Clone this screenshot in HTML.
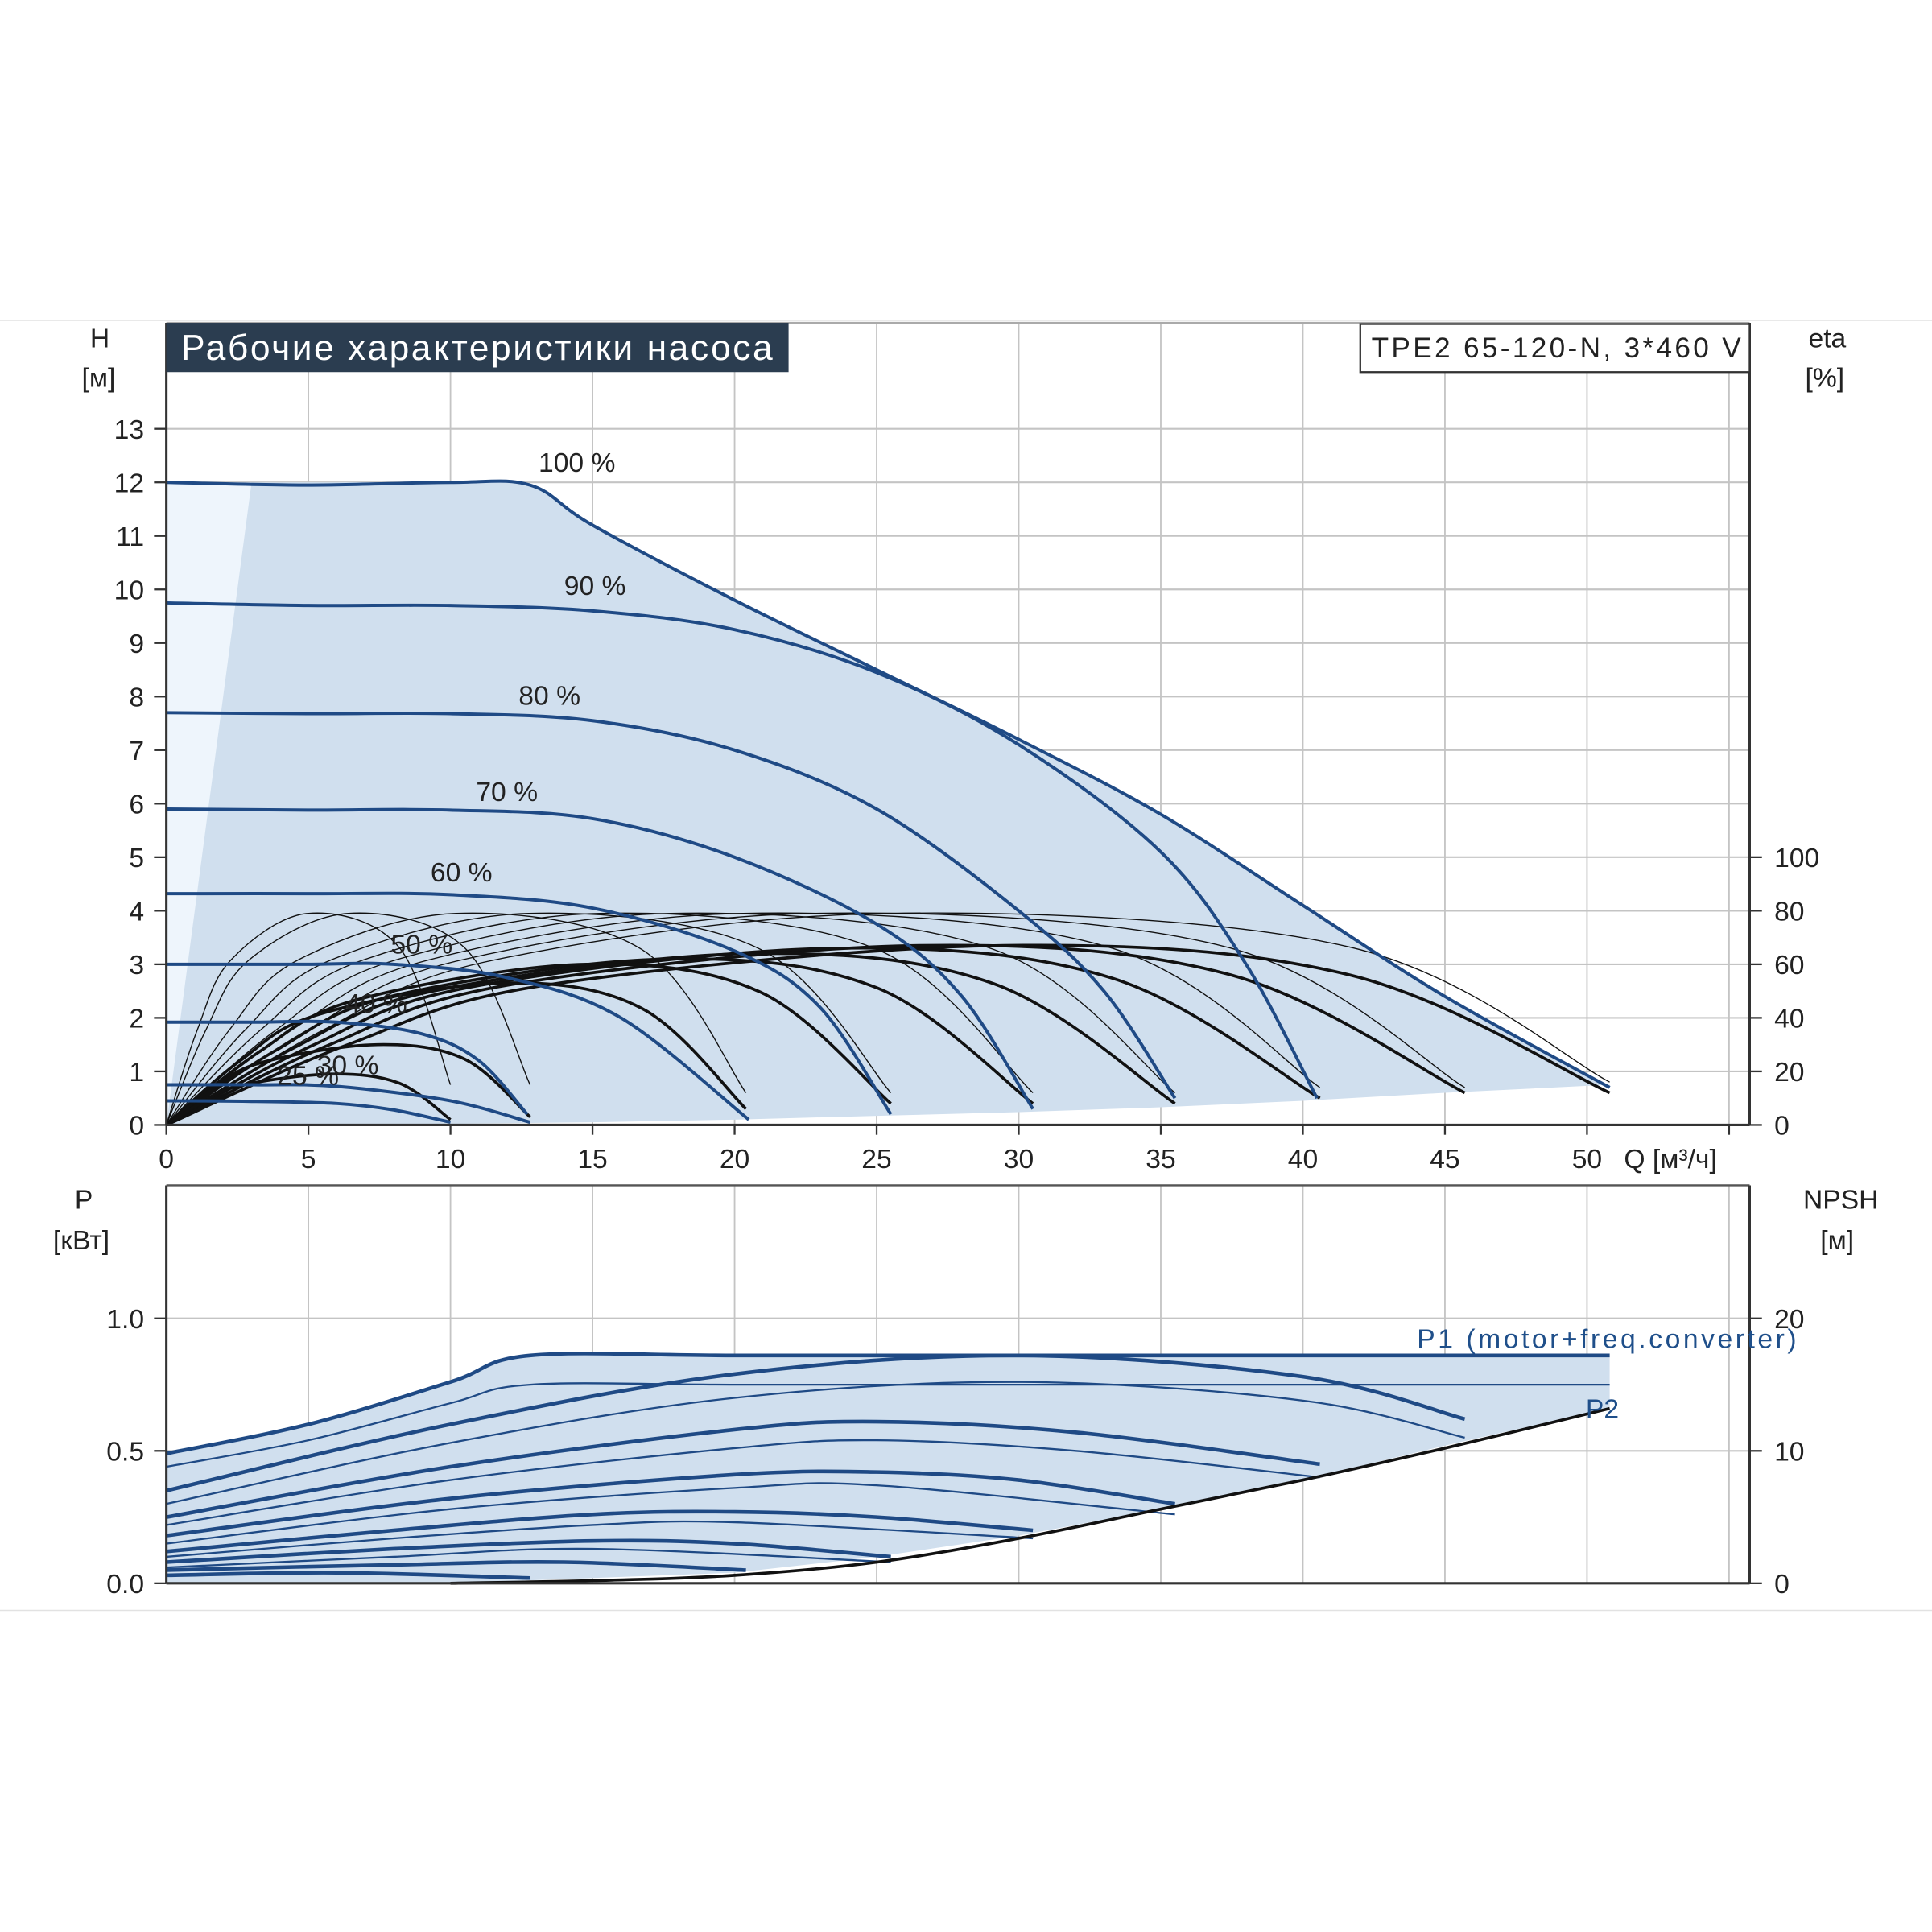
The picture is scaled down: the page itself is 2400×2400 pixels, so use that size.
<!DOCTYPE html>
<html><head><meta charset="utf-8">
<style>
html,body{margin:0;padding:0;background:#fff}
svg{display:block}
text{font-family:"Liberation Sans","DejaVu Sans",sans-serif;fill:#222}
</style></head>
<body>
<svg id="chart" width="2400" height="2400" viewBox="0 0 1568 1568" xmlns="http://www.w3.org/2000/svg">
<g id="static">
  <line x1="0" y1="260" x2="1568" y2="260" stroke="#e2e2e2" stroke-width="1"/>
  <line x1="0" y1="1307" x2="1568" y2="1307" stroke="#e2e2e2" stroke-width="1"/>
</g>
<g id="grid"></g>
<g id="areas"></g>
<g id="curves"></g>
<g id="axes"></g>
<g id="labels">
  <rect x="135" y="262" width="505" height="40" fill="#2b3d50"/>
  <text x="147" y="292" font-size="29" textLength="480" style="fill:#fff">Рабочие характеристики насоса</text>
  <rect x="1104" y="263" width="316" height="39" fill="#fff" stroke="#333" stroke-width="1.5"/>
  <text x="1113" y="290" font-size="23" textLength="300">TPE2 65-120-N, 3*460 V</text>
  <text x="81" y="282" font-size="22" text-anchor="middle">H</text>
  <text x="80" y="314" font-size="22" text-anchor="middle">[м]</text>
  <text x="1483" y="282" font-size="22" text-anchor="middle">eta</text>
  <text x="1481" y="314" font-size="22" text-anchor="middle">[%]</text>
  <text x="1318" y="948" font-size="22">Q [м³/ч]</text>
  <text x="68" y="981" font-size="22" text-anchor="middle">P</text>
  <text x="66" y="1014" font-size="22" text-anchor="middle">[кВт]</text>
  <text x="1494" y="981" font-size="22" text-anchor="middle">NPSH</text>
  <text x="1491" y="1014" font-size="22" text-anchor="middle">[м]</text>
  <text x="1150" y="1094" font-size="22" textLength="308" style="fill:#1f4f8a">P1 (motor+freq.converter)</text>
  <text x="1287" y="1151" font-size="22" style="fill:#1f4f8a">P2</text>
</g>
</svg>
<script>
const qTicks=[0,5,10,15,20,25,30,35,40,45,50];
const hTicks=[0,1,2,3,4,5,6,7,8,9,10,11,12,13];
const etaTicks=[0,20,40,60,80,100];
const pTicks=[0.0,0.5,1.0];
const npshTicks=[0,10,20];
const speedLabels=["100 %","90 %","80 %","70 %","60 %","50 %","40 %","30 %","25 %"];
const speedLabelQ=[13.1,14,12.4,10.9,9.3,7.9,6.3,5.3,3.9];
const speedLabelH=[12.2,9.9,7.85,6.05,4.55,3.2,2.1,0.95,0.75];
const hCurve100=[[0,12],[5,11.95],[10,12],[12.8,11.95],[15,11.2],[20,9.8],[25,8.5],[30,7.2],[35,5.8],[40,4.1],[45,2.4],[50.8,0.7]];
const hCurve90=[[0,9.75],[5,9.7],[10,9.7],[15,9.6],[20,9.25],[25,8.45],[30,7.1],[35,5.1],[38,3.0],[40.5,0.5]];
const hCurve80=[[0,7.7],[5,7.68],[10,7.68],[15,7.55],[20,7.0],[25,5.9],[30,4.0],[33,2.5],[35.5,0.5]];
const hCurve70=[[0,5.9],[5,5.88],[10,5.88],[15,5.72],[20,5.0],[25,3.75],[28,2.4],[30.5,0.3]];
const hCurve60=[[0,4.32],[5,4.32],[10,4.3],[15,4.05],[20,3.25],[23,2.2],[25.5,0.2]];
const hCurve50=[[0,3.0],[5,3.0],[8,3.0],[12,2.75],[16,2.0],[20.5,0.1]];
const hCurve40=[[0,1.92],[3,1.92],[6,1.92],[9,1.7],[11,1.2],[12.7,0.2]];
const hCurve30=[[0,0.75],[3,0.75],[6,0.72],[10,0.45],[12.8,0.05]];
const hCurve25=[[0,0.45],[3,0.44],[6,0.4],[8,0.28],[10,0.05]];
const hCurves=[hCurve100,hCurve90,hCurve80,hCurve70,hCurve60,hCurve50,hCurve40,hCurve30,hCurve25];
const areaBottom=[[50.8,0.75],[45,0.6],[40,0.45],[35,0.33],[30,0.24],[25,0.17],[20,0.1],[15,0.05],[10,0.02],[0,0]];
const etaEnds=[50.8,45.7,40.6,35.5,30.5,25.5,20.4,12.8,10];
const etaThickPeak=[67,67,66,64,62,60,53,30,19];
const etaThickEnd=[12,12,10,8,8,8,6,3,2];
const etaThinPeak=[79,79,79,79,79,79,79,79,79];
const etaThinEnd=[16,14,14,12,12,12,12,15,15];
const p1Curve100=[[0,0.49],[5,0.6],[10,0.76],[12.8,0.86],[20,0.86],[30,0.86],[40,0.86],[50.8,0.86]];
const p2Curve100=[[0,0.44],[5,0.54],[10,0.68],[12.8,0.75],[20,0.75],[30,0.75],[40,0.75],[50.8,0.75]];
const p1Curve90=[[0,0.35],[10,0.6],[20,0.79],[30,0.86],[40,0.78],[45.7,0.62]];
const p1Curve80=[[0,0.25],[10,0.44],[20,0.58],[25,0.61],[32,0.57],[40.6,0.45]];
const p1Curve70=[[0,0.18],[10,0.32],[20,0.41],[25,0.42],[30,0.39],[35.5,0.3]];
const p1Curve60=[[0,0.12],[8,0.2],[15,0.26],[20,0.27],[25,0.25],[30.5,0.2]];
const p1Curve50=[[0,0.08],[8,0.13],[15,0.16],[20,0.15],[25.5,0.1]];
const p1Curve40=[[0,0.05],[8,0.07],[14,0.08],[20.4,0.05]];
const p1Curve30=[[0,0.03],[6,0.04],[12.8,0.02]];
const p1Curves=[p1Curve90,p1Curve80,p1Curve70,p1Curve60,p1Curve50,p1Curve40,p1Curve30];
const p2Curve90=[[0,0.3],[10,0.53],[20,0.7],[30,0.76],[40,0.69],[45.7,0.55]];
const p2Curve80=[[0,0.22],[10,0.39],[20,0.51],[25,0.54],[32,0.5],[40.6,0.4]];
const p2Curve70=[[0,0.15],[10,0.28],[20,0.36],[25,0.37],[35.5,0.26]];
const p2Curve60=[[0,0.1],[8,0.17],[15,0.22],[20,0.23],[30.5,0.17]];
const p2Curve50=[[0,0.06],[8,0.1],[15,0.13],[25.5,0.08]];
const p2Curves=[p2Curve90,p2Curve80,p2Curve70,p2Curve60,p2Curve50];
const npshCurve=[[10,0],[15,0.2],[20,0.6],[25,1.6],[30,3.4],[35,5.6],[40,7.8],[45,10.2],[50.8,13.2]];

const NS="http://www.w3.org/2000/svg";
function X(q){return 135+q*23.06;}
function Y(h){return 913-h*43.46;}
function YE(e){return 913-e*2.173;}
function YP(p){return 1285-p*215;}
function YN(n){return 1285-n*10.75;}
function mk(tag,parent){const e=document.createElementNS(NS,tag);parent.appendChild(e);return e;}
function pathD(pts){
  let d="M"+pts[0][0].toFixed(1)+","+pts[0][1].toFixed(1);
  for(let i=0;i<pts.length-1;i++){
    const p0=pts[Math.max(0,i-1)],p1=pts[i],p2=pts[i+1],p3=pts[Math.min(pts.length-1,i+2)];
    const c1=[p1[0]+(p2[0]-p0[0])/6,p1[1]+(p2[1]-p0[1])/6];
    const c2=[p2[0]-(p3[0]-p1[0])/6,p2[1]-(p3[1]-p1[1])/6];
    d+=" C"+c1[0].toFixed(1)+","+c1[1].toFixed(1)+" "+c2[0].toFixed(1)+","+c2[1].toFixed(1)+" "+p2[0].toFixed(1)+","+p2[1].toFixed(1);
  }
  return d;
}
const gridG=document.getElementById('grid'),areasG=document.getElementById('areas'),curvesG=document.getElementById('curves'),axesG=document.getElementById('axes'),labelsG=document.getElementById('labels');
function line(parent,x1,y1,x2,y2,stroke,w){const l=mk('line',parent);l.setAttribute('x1',x1);l.setAttribute('y1',y1);l.setAttribute('x2',x2);l.setAttribute('y2',y2);l.setAttribute('stroke',stroke);l.setAttribute('stroke-width',w);return l;}
function txt(parent,x,y,s,anchor,size){const t=mk('text',parent);t.setAttribute('x',x);t.setAttribute('y',y);t.setAttribute('font-size',size||22);t.setAttribute('text-anchor',anchor||'start');t.textContent=s;return t;}

const gq=qTicks.concat([55]);
gq.forEach(q=>{
  const l=line(gridG,X(q),262,X(q),913,'#c4c4c4',1.2);
  
  
  const l2=line(gridG,X(q),962,X(q),1285,'#c4c4c4',1.2);
  
  
});
hTicks.forEach(h=>{
  const l=line(gridG,135,Y(h),1420,Y(h),'#c4c4c4',1.4);
  
  
});
pTicks.forEach(p=>{
  const l=line(gridG,135,YP(p),1420,YP(p),'#c4c4c4',1.4);
  
  
});
line(gridG,135,262,1420,262,'#aaa',1.5);
line(gridG,135,962,1420,962,'#555',1.5);

const topPts=hCurve100.map(p=>[X(p[0]),Y(p[1])]);
const botPts=areaBottom.map(p=>[X(p[0]),Y(p[1])]);
const light=mk('path',areasG);


light.setAttribute('d',"M"+X(0)+","+Y(12)+" L"+X(3)+","+Y(12)+" L"+X(0.3)+","+Y(0)+" L"+X(0)+","+Y(0)+" Z");
light.setAttribute('fill','#eef5fc');
const area=mk('path',areasG);


area.setAttribute('d',pathD([[X(3),Y(12)]].concat(topPts.slice(2)))+" L"+botPts.map(p=>p[0].toFixed(1)+","+p[1].toFixed(1)).join(" L")+" L"+X(3)+","+Y(12)+" Z");
area.setAttribute('fill','#d0dfee');
const p1t=p1Curve100.map(p=>[X(p[0]),YP(p[1])]);
const parea=mk('path',areasG);


const pbot=[[50.8,0.66],[45,0.52],[40,0.39],[35,0.28],[30,0.18],[25,0.1],[20,0.04],[10,0.0],[0,0.0]];
parea.setAttribute('d',pathD(p1t)+" L"+pbot.map(p=>X(p[0]).toFixed(1)+","+YP(p[1]).toFixed(1)).join(" L")+" Z");
parea.setAttribute('fill','#d0dfee');

etaEnds.forEach((qe,i)=>{
  [[etaThinPeak[i],etaThinEnd[i],0.9,0.5],[etaThickPeak[i],etaThickEnd[i],2.4,0.58]].forEach(c=>{
    const pk=c[0],en=c[1];
    const pts=[[0,0],[qe*0.12*c[3]/0.55,pk*0.45],[qe*0.25*c[3]/0.55,pk*0.78],[qe*c[3],pk],[qe*0.82,pk*0.8+en*0.2],[qe,en]].map(p=>[X(p[0]),YE(p[1])]);
    const pth=mk('path',curvesG);
    
    
    pth.setAttribute('d',pathD(pts));
    pth.setAttribute('fill','none');
    pth.setAttribute('stroke','#111');
    pth.setAttribute('stroke-width',c[2]);
  });
});
hCurves.forEach((c,i)=>{
  const pth=mk('path',curvesG);
  
  
  pth.setAttribute('d',pathD(c.map(p=>[X(p[0]),Y(p[1])])));
  pth.setAttribute('fill','none');
  pth.setAttribute('stroke','#1f4a85');
  pth.setAttribute('stroke-width',2.6);
  const t=txt(curvesG,X(speedLabelQ[i]),Y(speedLabelH[i]),speedLabels[i],'start',22);
  
  
});
[p1Curve100].concat(p1Curves).forEach(c=>{
  const pth=mk('path',curvesG);
  
  
  pth.setAttribute('d',pathD(c.map(p=>[X(p[0]),YP(p[1])])));
  pth.setAttribute('fill','none');
  pth.setAttribute('stroke','#1f4a85');
  pth.setAttribute('stroke-width',3);
});
[p2Curve100].concat(p2Curves).forEach(c=>{
  const pth=mk('path',curvesG);
  
  
  pth.setAttribute('d',pathD(c.map(p=>[X(p[0]),YP(p[1])])));
  pth.setAttribute('fill','none');
  pth.setAttribute('stroke','#1f4a85');
  pth.setAttribute('stroke-width',1.5);
});
const np=mk('path',curvesG);


np.setAttribute('d',pathD(npshCurve.map(p=>[X(p[0]),YN(p[1])])));
np.setAttribute('fill','none');
np.setAttribute('stroke','#111');
np.setAttribute('stroke-width',2.4);

line(axesG,135,262,135,913,'#333',2);
line(axesG,1420,262,1420,913,'#333',2);
line(axesG,135,913,1420,913,'#333',2);
line(axesG,135,962,135,1285,'#333',2);
line(axesG,1420,962,1420,1285,'#333',2);
line(axesG,135,1285,1420,1285,'#333',2);
hTicks.forEach(h=>{
  line(axesG,125,Y(h),135,Y(h),'#333',1.5);
  const t=txt(axesG,117,Y(h)+8,String(h),'end',22);
  
  
});
etaTicks.forEach(e=>{
  line(axesG,1420,YE(e),1430,YE(e),'#333',1.5);
  const t=txt(axesG,1440,YE(e)+8,String(e),'start',22);
  
  
});
qTicks.forEach(q=>{
  line(axesG,X(q),913,X(q),921,'#333',1.5);
  const t=txt(axesG,X(q),948,String(q),'middle',22);
  
  
});
line(axesG,X(55),913,X(55),921,'#333',1.5);
pTicks.forEach(p=>{
  line(axesG,125,YP(p),135,YP(p),'#333',1.5);
  const t=txt(axesG,117,YP(p)+8,p.toFixed(1),'end',22);
  
  
});
npshTicks.forEach(n=>{
  line(axesG,1420,YN(n),1430,YN(n),'#333',1.5);
  const t=txt(axesG,1440,YN(n)+8,String(n),'start',22);
  
  
});
document.getElementById('chart').appendChild(labelsG);
</script>
</body></html>
